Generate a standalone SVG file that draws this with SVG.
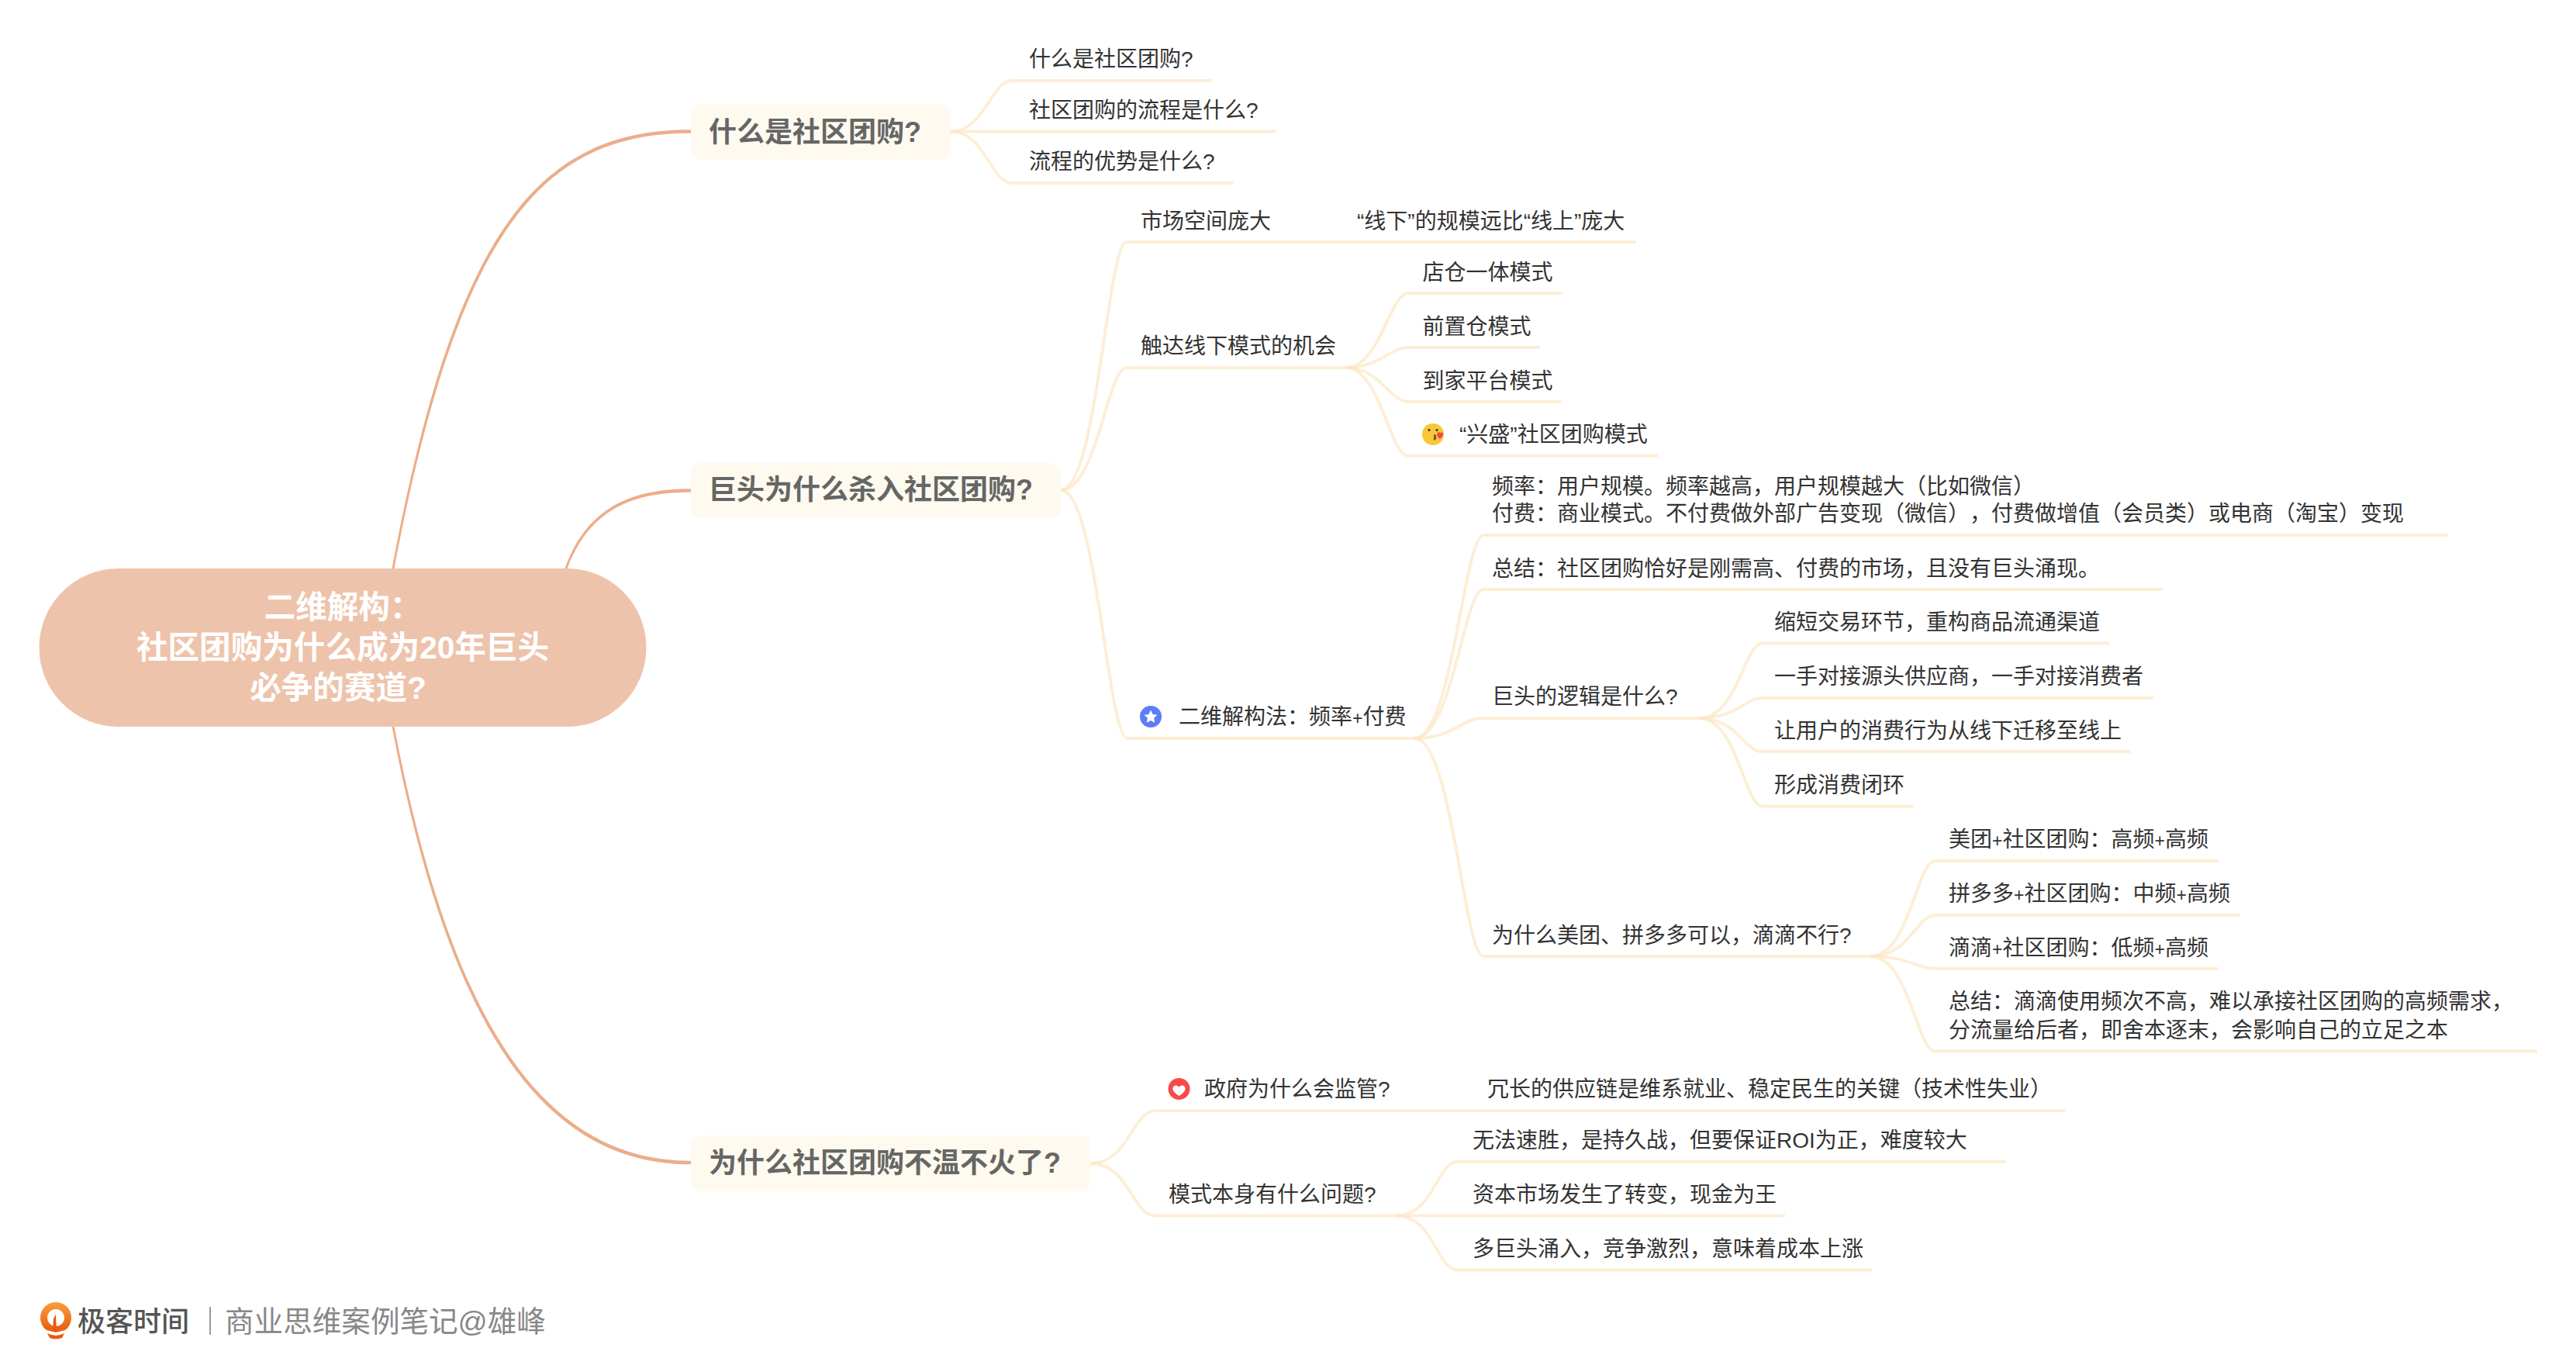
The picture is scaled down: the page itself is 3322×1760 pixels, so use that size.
<svg xmlns="http://www.w3.org/2000/svg" width="3322" height="1760" viewBox="0 0 3322 1760">
<defs>
<style>
text{font-family:"Liberation Sans","Noto Sans CJK SC",sans-serif;text-spacing-trim:space-all}
.t{font-size:28px;fill:#333}
.p{font-size:23px}
.m{font-size:36px;font-weight:700;fill:#666}
.r{font-size:40.6px;font-weight:700;fill:#fff;text-anchor:middle}
.mb{fill:#FEFAEF}
.c{fill:none;stroke:#FCE7C6;stroke-width:4;stroke-opacity:.7}
.k{fill:#EBAE8A;stroke:none}
</style>
<linearGradient id="pin" x1="0" y1="0" x2="0" y2="1"><stop offset="0" stop-color="#F5A03C"/><stop offset="1" stop-color="#E9590F"/></linearGradient>
</defs>
<rect width="3322" height="1760" fill="#fff"/>
<g id="connectors">
<path class="k" d="M505.500 733C588 290 698 167.200 891 167.200V171.800C702 171.800 592 290 508.500 733Z"/>
<path class="k" d="M728.500 733C758 650 820 630.200 891 630.200V634.800C822 634.800 762 652 731.500 733Z"/>
<path class="k" d="M505.500 937C578 1320 698 1501.300 891 1501.300V1496.700C702 1496.700 582 1320 508.500 937Z"/>
<path class="c" d="M1226 169.500C1270 169.500 1278 104 1305 104H1562"/>
<path class="c" d="M1226 169.500H1646"/>
<path class="c" d="M1226 169.500C1270 169.500 1278 236 1305 236H1590"/>
<path class="c" d="M1368 632C1415 632 1428 312 1453 312H2110"/>
<path class="c" d="M1368 632C1415 632 1428 474 1453 474H1735"/>
<path class="c" d="M1368 632C1415 632 1428 952 1454 952H1824"/>
<path class="c" d="M1735 474C1780 474 1792 378 1816 378H2014"/>
<path class="c" d="M1735 474C1780 474 1792 448 1816 448H1986"/>
<path class="c" d="M1735 474C1780 474 1792 518 1816 518H2014"/>
<path class="c" d="M1735 474C1780 474 1792 587.500 1816 587.500H2138"/>
<path class="c" d="M1824 952C1873 952 1888 690 1913 690H3157"/>
<path class="c" d="M1824 952C1873 952 1888 760 1913 760H2789"/>
<path class="c" d="M1824 952C1873 952 1888 926 1910 926H2191"/>
<path class="c" d="M1824 952C1873 952 1888 1233 1913 1233H2412"/>
<path class="c" d="M2191 926C2240 926 2250 829.500 2272 829.500H2720"/>
<path class="c" d="M2191 926C2240 926 2250 900 2272 900H2776.500"/>
<path class="c" d="M2191 926C2240 926 2250 969 2272 969H2748"/>
<path class="c" d="M2191 926C2240 926 2250 1039.500 2272 1039.500H2468"/>
<path class="c" d="M2412 1233C2462 1233 2472 1110 2495.500 1110H2860.500"/>
<path class="c" d="M2412 1233C2462 1233 2472 1180 2495.500 1180H2888.500"/>
<path class="c" d="M2412 1233C2462 1233 2472 1249 2495.500 1249H2860.500"/>
<path class="c" d="M2412 1233C2462 1233 2472 1355.500 2495.500 1355.500H3272"/>
<path class="c" d="M1406 1500C1456 1500 1460 1432 1490 1432H2663"/>
<path class="c" d="M1406 1500C1456 1500 1460 1567.500 1490 1567.500H1800"/>
<path class="c" d="M1800 1567.500C1850 1567.500 1852 1498 1880 1498H2587"/>
<path class="c" d="M1800 1567.500H2302"/>
<path class="c" d="M1800 1567.500C1850 1567.500 1852 1637.500 1880 1637.500H2414"/>
</g>
<g id="root"><rect x="50.500" y="733" width="783" height="204" rx="102" fill="#EEC3AB"/>
<text class="r" x="442" y="797">二维解构：</text><text class="r" x="442" y="849">社区团购为什么成为20年巨头</text><text class="r" x="436" y="901">必争的赛道?</text></g>
<g id="n1"><rect class="mb" x="891" y="134" width="335" height="71.500" rx="12"/><text class="m" x="914" y="183">什么是社区团购?</text></g>
<g id="n2"><rect class="mb" x="891" y="597" width="477" height="71" rx="12"/><text class="m" x="914" y="644">巨头为什么杀入社区团购?</text></g>
<g id="n3"><rect class="mb" x="891" y="1464" width="515" height="72" rx="12"/><text class="m" x="914" y="1512">为什么社区团购不温不火了?</text></g>
<g id="n1-1"><text class="t" x="1327" y="86">什么是社区团购?</text></g>
<g id="n1-2"><text class="t" x="1327" y="152">社区团购的流程是什么?</text></g>
<g id="n1-3"><text class="t" x="1327" y="218">流程的优势是什么?</text></g>
<g id="n2-1"><text class="t" x="1471" y="295">市场空间庞大</text></g>
<g id="n2-1-1"><text class="t" x="1750" y="295">“线下”的规模远比“线上”庞大</text></g>
<g id="n2-2"><text class="t" x="1471" y="456">触达线下模式的机会</text></g>
<g id="n2-2-1"><text class="t" x="1834.500" y="361">店仓一体模式</text></g>
<g id="n2-2-2"><text class="t" x="1834.500" y="431">前置仓模式</text></g>
<g id="n2-2-3"><text class="t" x="1834.500" y="501">到家平台模式</text></g>
<g id="n2-2-4">
<circle cx="1848" cy="560" r="14" fill="#F8C636"/><circle cx="1843" cy="554.500" r="1.600" fill="#333"/><circle cx="1853" cy="554.500" r="1.600" fill="#333"/>
<path d="M1849 561q4 1 1 3q3 1-1 3" fill="none" stroke="#333" stroke-width="1.500"/>
<path d="M1857 566c-4-3-5-6-3-8c1-1 3-1 3 1c1-2 4-2 4 1c0 2-2 4-4 6Z" fill="#EE4B4B"/>
<text class="t" x="1882" y="570">“兴盛”社区团购模式</text></g>
<g id="n2-3">
<circle cx="1484" cy="924" r="14" fill="#5C7CFA"/><path d="M1484 915.500l2.600 5.400 5.900.8-4.300 4.100 1 5.900-5.200-2.800-5.200 2.800 1-5.900-4.300-4.100 5.900-.8Z" fill="#fff"/>
<text class="t" x="1520" y="934">二维解构法：频率<tspan class="p">+</tspan>付费</text></g>
<g id="n2-3-1"><text class="t" x="1924" y="637">频率：用户规模。频率越高，用户规模越大（比如微信）</text><text class="t" x="1924" y="672">付费：商业模式。不付费做外部广告变现（微信），付费做增值（会员类）或电商（淘宝）变现</text></g>
<g id="n2-3-2"><text class="t" x="1924" y="743">总结：社区团购恰好是刚需高、付费的市场，且没有巨头涌现。</text></g>
<g id="n2-3-3"><text class="t" x="1924" y="908">巨头的逻辑是什么?</text></g>
<g id="n2-3-3-1"><text class="t" x="2288" y="812">缩短交易环节，重构商品流通渠道</text></g>
<g id="n2-3-3-2"><text class="t" x="2288" y="882">一手对接源头供应商，一手对接消费者</text></g>
<g id="n2-3-3-3"><text class="t" x="2288" y="952">让用户的消费行为从线下迁移至线上</text></g>
<g id="n2-3-3-4"><text class="t" x="2288" y="1022">形成消费闭环</text></g>
<g id="n2-3-4"><text class="t" x="1924" y="1216">为什么美团、拼多多可以，滴滴不行?</text></g>
<g id="n2-3-4-1"><text class="t" x="2513" y="1092">美团<tspan class="p">+</tspan>社区团购：高频<tspan class="p">+</tspan>高频</text></g>
<g id="n2-3-4-2"><text class="t" x="2513" y="1162">拼多多<tspan class="p">+</tspan>社区团购：中频<tspan class="p">+</tspan>高频</text></g>
<g id="n2-3-4-3"><text class="t" x="2513" y="1232">滴滴<tspan class="p">+</tspan>社区团购：低频<tspan class="p">+</tspan>高频</text></g>
<g id="n2-3-4-4"><text class="t" x="2513" y="1301">总结：滴滴使用频次不高，难以承接社区团购的高频需求，</text><text class="t" x="2513" y="1337.500">分流量给后者，即舍本逐末，会影响自己的立足之本</text></g>
<g id="n3-1">
<circle cx="1520.500" cy="1404" r="14" fill="#FA4B4B"/><path d="M1520.500 1413c-6-4-8.500-7-8-10c.6-4 6-5 8-1c2-4 7.400-3 8 1c.5 3-2 6-8 10Z" fill="#fff"/>
<text class="t" x="1553" y="1414">政府为什么会监管?</text></g>
<g id="n3-1-1"><text class="t" x="1918" y="1414">冗长的供应链是维系就业、稳定民生的关键（技术性失业）</text></g>
<g id="n3-2"><text class="t" x="1507" y="1550">模式本身有什么问题?</text></g>
<g id="n3-2-1"><text class="t" x="1899" y="1480">无法速胜，是持久战，但要保证ROI为正，难度较大</text></g>
<g id="n3-2-2"><text class="t" x="1899" y="1550">资本市场发生了转变，现金为王</text></g>
<g id="n3-2-3"><text class="t" x="1899" y="1620">多巨头涌入，竞争激烈，意味着成本上涨</text></g>
<g id="logo">
<path d="M72 1679a20 20 0 0 1 12 36l-12 3l-12-3a20 20 0 0 1 12-36Z" fill="url(#pin)"/>
<circle cx="72" cy="1699" r="11" fill="#fff"/>
<path d="M68 1716l1-16l3-5l1 21Z" fill="#E9590F"/>
<path d="M61 1719q11 6 22 0l-3 6q-8 3-16 0Z" fill="#E9590F"/>
<text x="100" y="1717" font-size="36" font-weight="500" fill="#555">极客时间</text>
<rect x="270" y="1685" width="2" height="36" fill="#999"/>
<text x="290" y="1717" font-size="37.600" fill="#888">商业思维案例笔记@雄峰</text>
</g>
</svg>
